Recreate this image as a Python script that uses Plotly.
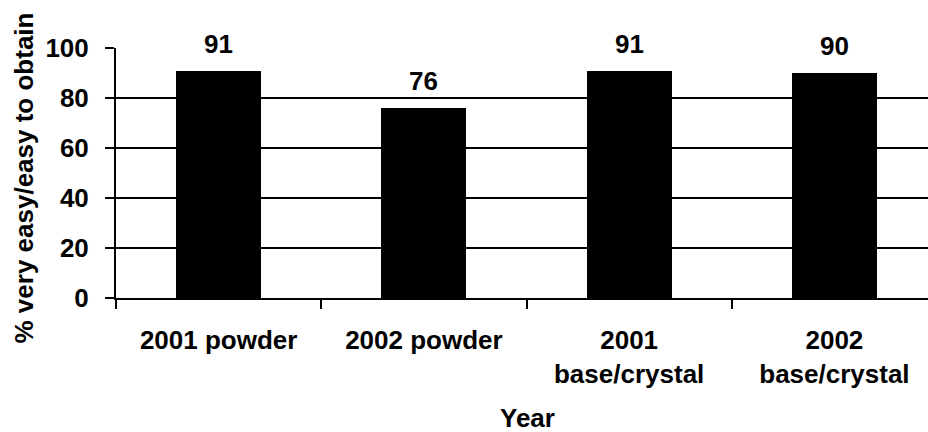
import plotly.graph_objects as go

# Share of respondents rating the drug very easy/easy to obtain
categories = ["2001 powder", "2002 powder", "2001<br>base/crystal", "2002<br>base/crystal"]
values = [91, 76, 91, 90]
y_ticks = [0, 20, 40, 60, 80, 100]

FONT = "Liberation Sans, Arial, sans-serif"
x_pos = list(range(len(categories)))
boundaries = [i - 0.5 for i in range(len(categories) + 1)]

fig = go.Figure()
fig.add_trace(go.Bar(
    x=x_pos,
    y=values,
    width=0.415,
    marker=dict(color="black", line=dict(color="black", width=0)),
    hoverinfo="skip",
))

# value labels above each bar
for xi, v in zip(x_pos, values):
    fig.add_annotation(
        x=xi, y=v, xref="x", yref="y", text=f"<b>{v}</b>",
        showarrow=False, yanchor="bottom", yshift=10,
        font=dict(family=FONT, size=26, color="black"),
    )

# axis titles
fig.add_annotation(
    x=-0.1127, y=0.48, xref="paper", yref="paper",
    text="<b>% very easy/easy to obtain</b>", textangle=-90,
    showarrow=False, xanchor="center", yanchor="middle",
    font=dict(family=FONT, size=26, color="black"),
)
fig.add_annotation(
    x=0.5068, y=-0.48, xref="paper", yref="paper",
    text="<b>Year</b>", showarrow=False,
    xanchor="center", yanchor="middle",
    font=dict(family=FONT, size=26, color="black"),
)

fig.update_layout(
    width=928, height=432,
    margin=dict(l=116, r=0, t=48, b=134, pad=0),
    paper_bgcolor="white",
    plot_bgcolor="white",
    showlegend=False,
    font=dict(family=FONT, size=26, color="black"),
    bargap=0,
)

fig.update_xaxes(
    range=[-0.5, 3.456],
    tickmode="array",
    tickvals=x_pos,
    ticktext=[f"<b>{c}</b>".replace("<br>", "</b><br><b>") for c in categories],
    ticks="",
    showgrid=False,
    zeroline=False,
    showline=True, linecolor="black", linewidth=2,
    tickfont=dict(family=FONT, size=26, color="black"),
    ticklabelstandoff=18,
    minor=dict(
        tickmode="array", tickvals=boundaries,
        ticks="outside", ticklen=9, tickwidth=2, tickcolor="black",
        showgrid=False,
    ),
)

fig.update_yaxes(
    range=[0, 100],
    tickmode="array",
    tickvals=y_ticks,
    ticktext=[f"<b>{t}</b>" for t in y_ticks],
    ticks="outside", ticklen=9, tickwidth=2, tickcolor="black",
    showgrid=True, gridcolor="black", gridwidth=2,
    zeroline=False,
    showline=True, linecolor="black", linewidth=2,
    tickfont=dict(family=FONT, size=26, color="black"),
    ticklabelstandoff=11,
)

fig.write_html("out.html")
